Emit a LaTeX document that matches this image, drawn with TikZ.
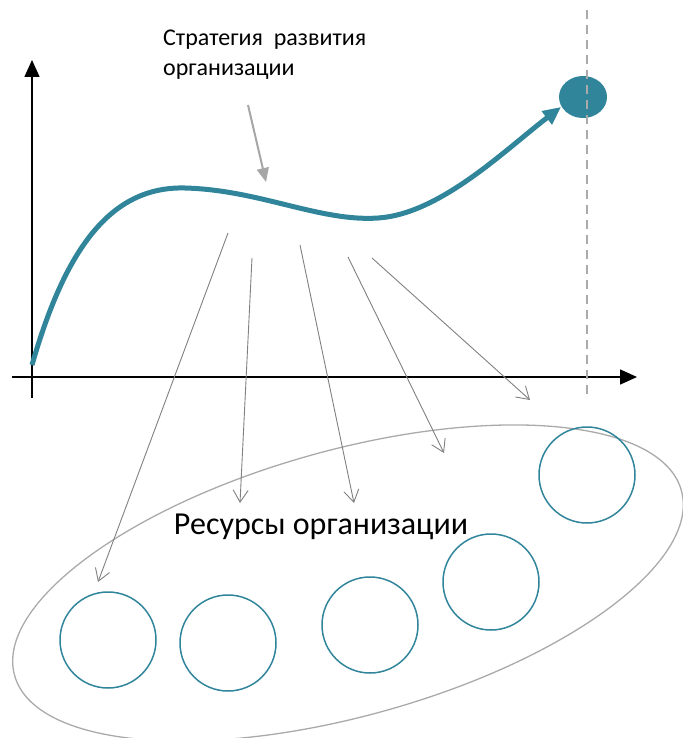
\documentclass[tikz,border=0pt]{standalone}
\usepackage{fontspec}
\setmainfont{Carlito}
\usetikzlibrary{arrows.meta,shapes.geometric}
\definecolor{teal1}{RGB}{49,133,155}
\definecolor{grayA}{RGB}{166,166,166}
\definecolor{grayB}{RGB}{128,128,128}
\definecolor{grayC}{RGB}{170,170,170}
\tikzset{
  axisline/.style={line width=1.6pt, black, -{Triangle[length=17pt,width=15pt]}},
  thinarrow/.style={line width=0.9pt, grayB, -{Straight Barb[length=12pt,width=15pt]}},
  rescircle/.style={circle, draw=teal1, line width=1.5pt, minimum size=96pt, inner sep=0pt},
  labeltext/.style={font=\fontsize{24}{30}\selectfont, align=left, inner sep=0pt},
}
\begin{document}
\begin{tikzpicture}[x=1pt,y=-1pt]
\useasboundingbox (0,0) rectangle (682,738);
% coordinates
\coordinate (yb) at (32,398);
\coordinate (yt) at (32,60);
\coordinate (xl) at (12,377);
\coordinate (xr) at (637,377);
\coordinate (dt) at (587,10);
\coordinate (db) at (587,396);
% resource ellipse
\coordinate (ec) at (348,583);
\draw[grayC, line width=1.3pt, rotate around={15.5:(ec)}] (ec) ellipse [x radius=346pt, y radius=133pt];
% axes
\draw[axisline] (yb) -- (yt);
\draw[axisline] (xl) -- (xr);
% goal point
\node[ellipse, fill=teal1, minimum width=48pt, minimum height=42pt, inner sep=0pt] (goal) at (583,97) {};
% dashed line
\draw[grayC, line width=1.8pt, dash pattern=on 9pt off 6pt] (dt) -- (db);
% strategy curve
\coordinate (c0) at (32,365);
\coordinate (c1) at (185,188);
\coordinate (c2) at (378,218);
\coordinate (c3) at (561,107);
\draw[teal1, line width=5pt, -{Triangle[length=18pt,width=16pt]}]
  (c0) .. controls (65,250) and (110,186) .. (c1)
       .. controls (260,190) and (320,222) .. (c2)
       .. controls (440,214) and (505,150) .. (c3);
% label
\node[labeltext, anchor=north west] (strat) at (163,30) {Стратегия\ \ развития\\организации};
\coordinate (sa) at (248,105);
\coordinate (sb) at (266,182);
\draw[grayA, line width=2pt, -{Triangle[length=14pt,width=12pt]}] (sa) -- (sb);
% resource circles
\node[rescircle] (r1) at (108,640) {};
\node[rescircle] (r2) at (228,643) {};
\node[rescircle] (r3) at (370,625) {};
\node[rescircle] (r4) at (491,582) {};
\node[rescircle] (r5) at (587,475) {};
\node[font=\fontsize{32}{36}\selectfont, inner sep=0pt] (res) at (321,527) {Ресурсы организации};
% thin arrows
\coordinate (a1s) at (228,233); \coordinate (a1e) at (98,582);
\coordinate (a2s) at (252,258); \coordinate (a2e) at (240,503);
\coordinate (a3s) at (300,245); \coordinate (a3e) at (354,503);
\coordinate (a4s) at (348,257); \coordinate (a4e) at (444,453);
\coordinate (a5s) at (372,258); \coordinate (a5e) at (530,400);
\draw[thinarrow] (a1s) -- (a1e);
\draw[thinarrow] (a2s) -- (a2e);
\draw[thinarrow] (a3s) -- (a3e);
\draw[thinarrow] (a4s) -- (a4e);
\draw[thinarrow] (a5s) -- (a5e);
\end{tikzpicture}
\end{document}
